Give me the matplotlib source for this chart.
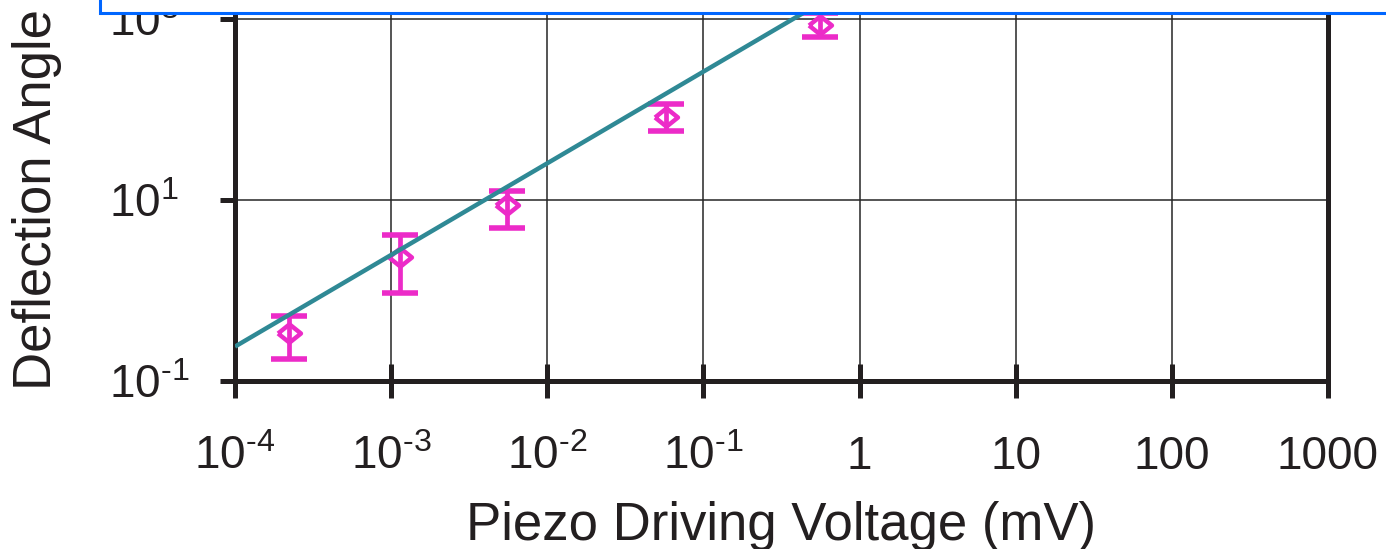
import matplotlib
matplotlib.use("Agg")
import matplotlib.pyplot as plt
from matplotlib.patches import Rectangle
import numpy as np

# ---- data ----
volt = [2.22e-4, 1.14e-3, 5.53e-3, 0.0577, 0.559]
angle = [0.339, 2.34, 8.81, 82.6, 859]
angle_low = [0.175, 0.94, 4.91, 57.8, 632]
angle_high = [0.522, 4.10, 12.6, 115, 1164]

fit_volt = [1e-4, 1.0]
fit_angle = [0.24, 2700]

x_ticks = [1e-4, 1e-3, 1e-2, 1e-1, 1, 10, 100, 1000]
x_tick_labels = [r'$\mathregular{10^{‐4}}$', r'$\mathregular{10^{‐3}}$',
                 r'$\mathregular{10^{‐2}}$', r'$\mathregular{10^{‐1}}$',
                 '1', '10', '100', '1000']
y_ticks = [1e-1, 1e1, 1e3]
y_tick_labels = [r'$\mathregular{10^{‐1}}$', r'$\mathregular{10^{1}}$',
                 r'$\mathregular{10^{3}}$']

x_label = 'Piezo Driving Voltage (mV)'
y_label = 'Deflection Angle'

# ---- style ----
plt.rcParams['font.family'] = ['Liberation Sans', 'DejaVu Sans']
plt.rcParams['mathtext.fontset'] = 'custom'
plt.rcParams['mathtext.rm'] = 'Liberation Sans'
plt.rcParams['mathtext.it'] = 'Liberation Sans:italic'
plt.rcParams['mathtext.bf'] = 'Liberation Sans:bold'

W, H = 1386, 549
fig = plt.figure(figsize=(W / 100, H / 100), dpi=100)

left_px, right_px, bottom_px = 235, 1328, 381
ymin_dec, ymax_dec = -1, 3.2
px_per_dec_y = 90.5
top_px = bottom_px - (ymax_dec - ymin_dec) * px_per_dec_y
ax = fig.add_axes([left_px / W, (H - bottom_px) / H,
                   (right_px - left_px) / W, (bottom_px - top_px) / H])

ax.set_xscale('log')
ax.set_yscale('log')
ax.set_xlim(1e-4, 1e3)
ax.set_ylim(10 ** ymin_dec, 10 ** ymax_dec)

dark = '#231f20'
magenta = '#ec2bc8'
teal = '#2f8995'

ax.grid(True, which='major', color='#262626', linewidth=1.1, zorder=0)
ax.set_axisbelow(True)

for s in ['left', 'bottom', 'right']:
    ax.spines[s].set_linewidth(3.6)
    ax.spines[s].set_color(dark)
ax.spines['top'].set_visible(False)

ax.set_xticks(x_ticks)
ax.set_xticklabels(x_tick_labels)
ax.set_yticks(y_ticks)
ax.set_yticklabels(y_tick_labels)
ax.xaxis.set_minor_locator(matplotlib.ticker.NullLocator())
ax.yaxis.set_minor_locator(matplotlib.ticker.NullLocator())

ax.tick_params(axis='x', direction='inout', length=24, width=3.6, color=dark,
               labelsize=33, labelcolor=dark, pad=27)
ax.tick_params(axis='y', direction='out', length=11, width=3.6, color=dark,
               labelsize=33, labelcolor=dark, pad=80)
for lab in ax.get_yticklabels():
    lab.set_horizontalalignment('left')

# fit line
ax.plot(fit_volt, fit_angle, color=teal, linewidth=3.2, zorder=5,
        solid_capstyle='butt')

# data with error bars
a = np.array(angle)
yerr = [a - np.array(angle_low), np.array(angle_high) - a]
diamond = [(-1, 0), (0, 0.8), (1, 0), (0, -0.8), (-1, 0)]
ax.errorbar(volt, angle, yerr=yerr, fmt='none', ecolor=magenta,
            elinewidth=3.4, capsize=13, capthick=4.0, zorder=3)
ax.plot(volt, angle, linestyle='none', marker=diamond, markersize=16.5,
        markerfacecolor='none', markeredgecolor=magenta,
        markeredgewidth=3.2, zorder=4)

fig.text(781.5 / W, (H - 540) / H, x_label, ha='center', va='baseline',
         fontsize=38, color=dark)
fig.text(37 / W, (H - 390) / H, y_label, ha='center', va='bottom',
         rotation=90, fontsize=38, color=dark)

# selection box overlay at top
rect = Rectangle((100 / W, (H - 12.7) / H), 2.0, 1.0, transform=fig.transFigure,
                 facecolor='white', edgecolor='#0066ff', linewidth=2.2,
                 zorder=100, clip_on=False)
fig.patches.append(rect)

fig.savefig('out.png', dpi=100)
